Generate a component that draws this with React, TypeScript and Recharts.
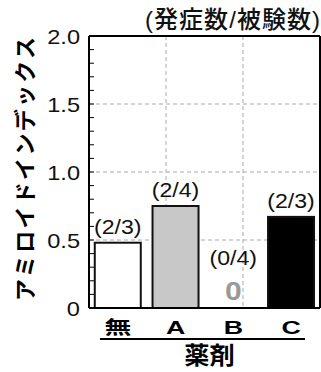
import { Bar, BarChart, CartesianGrid, LabelList, XAxis, YAxis } from "recharts";

const categories = ["無", "A", "B", "C"];
const values = [0.48, 0.75, 0, 0.67];
const ratios = ["(2/3)", "(2/4)", "(0/4)", "(2/3)"];
const fills = ["#ffffff", "#c8c8c8", "#ffffff", "#000000"];
const yTicks = [0, 0.1, 0.2, 0.3, 0.4, 0.5, 0.6, 0.7, 0.8, 0.9, 1, 1.1, 1.2, 1.3, 1.4, 1.5, 1.6, 1.7, 1.8, 1.9, 2];
const bandEdges = [1, 2, 3];

const FONT = "'Liberation Sans', Arial, 'Noto Sans CJK JP', sans-serif";

const data = categories.map((name, i) => ({ name, value: values[i], ratio: ratios[i], fill: fills[i] }));

const isMajor = (v: number) => Math.abs(v * 2 - Math.round(v * 2)) < 1e-6;

// text stretched horizontally like the original scan
function SText({ x, y, sx = 1, anchor = "middle", children, ...rest }: any) {
  return (
    <text
      transform={`translate(${x},${y}) scale(${sx},1)`}
      textAnchor={anchor}
      fontFamily={FONT}
      {...rest}
    >
      {children}
    </text>
  );
}

function LeftTick(props: any) {
  const { x, y, payload } = props;
  const v = payload.value as number;
  return (
    <g>
      <line x1={x} x2={x + 5} y1={y} y2={y} stroke="#000" strokeWidth={1} />
      {isMajor(v) && (
        <SText x={x - 9} y={y + 7.5} sx={1.18} anchor="end" fontSize={20} fill="#111">
          {v === 0 ? "0" : v.toFixed(1)}
        </SText>
      )}
    </g>
  );
}

function RightTick(props: any) {
  const { x, y } = props;
  return <line x1={x} x2={x - 5} y1={y} y2={y} stroke="#000" strokeWidth={1} />;
}

function BottomTick(props: any) {
  const { x, y, payload } = props;
  return (
    <SText x={x} y={y + 26} sx={1.45} fontSize={18.5} fontWeight="bold" fill="#000">
      {payload.value}
    </SText>
  );
}

function RatioLabel(props: any) {
  const { x, y, width, index } = props;
  const cx = x + width / 2;
  const zero = values[index] === 0;
  return (
    <g>
      {zero && (
        <SText x={cx} y={y - 8} sx={1.2} fontSize={25} fontWeight="bold" fill="#999">
          0
        </SText>
      )}
      <SText x={cx} y={zero ? y - 43 : y - 9} sx={1.1} fontSize={21} fill="#111">
        {ratios[index]}
      </SText>
    </g>
  );
}

export default function App() {
  return (
    <div style={{ position: "absolute", left: 0, top: 0, background: "#fff" }}>
      <BarChart
        width={321}
        height={372}
        data={data}
        margin={{ top: 35, right: 0, bottom: 0, left: 0 }}
        barCategoryGap="10%"
      >
        <CartesianGrid xAxisId="grid" yAxisId="left" stroke="#aaa" strokeDasharray="4 3" horizontalValues={[0.5, 1, 1.5]} />
        <XAxis xAxisId="grid" type="number" domain={[0, 4]} ticks={bandEdges} hide />
        <XAxis
          xAxisId="top"
          orientation="top"
          dataKey="name"
          height={1}
          tick={false}
          tickLine={false}
          axisLine={{ stroke: "#000", strokeWidth: 2 }}
          label={{
            content: () => (
              <text
                x={320}
                y={28}
                textAnchor="end"
                textLength={175}
                lengthAdjust="spacing"
                fontFamily={FONT}
                fontSize={24}
                fontWeight={500}
                fill="#111"
              >
                (発症数/被験数)
              </text>
            ),
          }}
        />
        <XAxis
          dataKey="name"
          height={64}
          tickLine={false}
          tickSize={0}
          tickMargin={0}
          axisLine={{ stroke: "#000", strokeWidth: 2 }}
          tick={BottomTick}
          label={{
            content: (p: any) => {
              const vb = p.viewBox;
              return (
                <g>
                  <line x1={vb.x + 11} x2={vb.x + vb.width - 15} y1={vb.y + 31} y2={vb.y + 31} stroke="#000" strokeWidth={2} />
                  <SText x={vb.x + vb.width / 2 + 5} y={vb.y + 56} sx={1.05} fontSize={24} fontWeight="bold" fill="#000">
                    薬剤
                  </SText>
                </g>
              );
            },
          }}
        />
        <YAxis
          yAxisId="left"
          width={89}
          domain={[0, 2]}
          ticks={yTicks}
          interval={0}
          tickLine={false}
          tickSize={0}
          tickMargin={0}
          axisLine={{ stroke: "#000", strokeWidth: 2 }}
          tick={LeftTick}
          label={{
            content: (p: any) => {
              const vb = p.viewBox;
              const cx = 25;
              const cy = vb.y + vb.height / 2 - 3;
              return (
                <text
                  x={cx}
                  y={cy}
                  transform={`rotate(-90 ${cx} ${cy})`}
                  textAnchor="middle"
                  dominantBaseline="central"
                  textLength={264}
                  lengthAdjust="spacing"
                  fontFamily={FONT}
                  fontSize={22}
                  fontWeight="bold"
                  fill="#000"
                >
                  アミロイドインデックス
                </text>
              );
            },
          }}
        />
        <YAxis
          yAxisId="right"
          orientation="right"
          width={1}
          domain={[0, 2]}
          ticks={yTicks}
          interval={0}
          tickLine={false}
          tickSize={0}
          tickMargin={0}
          axisLine={{ stroke: "#000", strokeWidth: 2 }}
          tick={RightTick}
        />
        <Bar
          yAxisId="left"
          dataKey="value"
          isAnimationActive={false}
          shape={(p: any) => {
            if (!p.height) return <g />;
            return <rect x={p.x} y={p.y} width={p.width} height={p.height} fill={p.payload.fill} stroke="#111" strokeWidth={2} />;
          }}
        >
          <LabelList dataKey="ratio" content={RatioLabel} />
        </Bar>
      </BarChart>
    </div>
  );
}
